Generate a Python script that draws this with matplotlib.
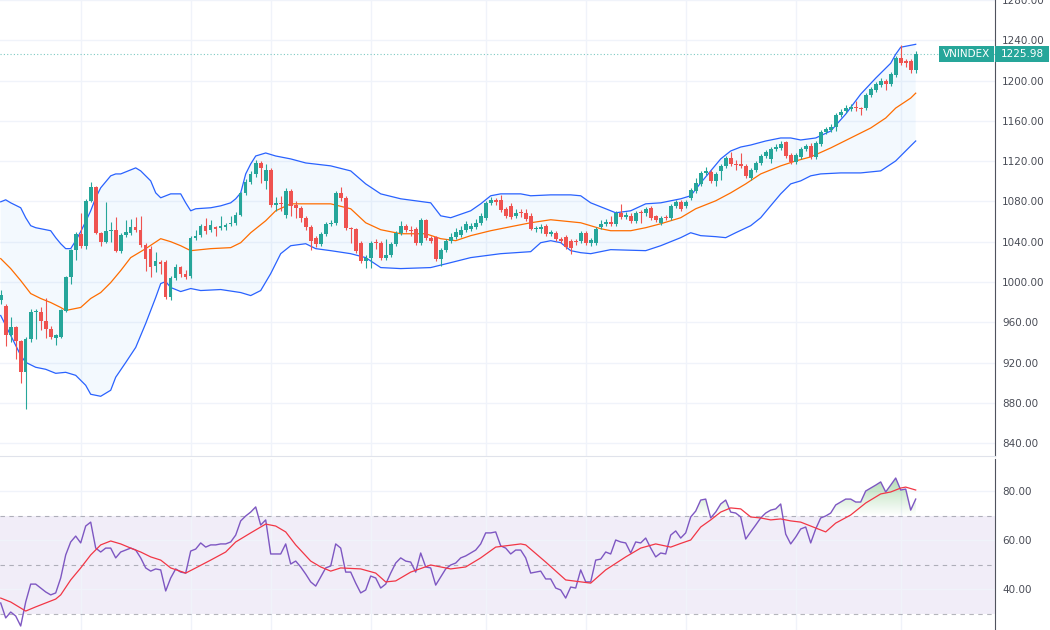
import numpy as np
import matplotlib.pyplot as plt
import matplotlib.colors as mcolors
import matplotlib.transforms as mtransforms
from matplotlib.patches import Rectangle

# daily candles
opens = [982, 976, 947, 955, 941, 911, 943, 970, 970, 961,
         953, 944, 945, 971, 1005, 1032, 1048, 1036, 1080, 1094,
         1049, 1040, 1051, 1052, 1031, 1047, 1049, 1055, 1052, 1037,
         1033, 1016, 1020, 1020, 985, 1004, 1015, 1008, 1006, 1044,
         1047, 1056, 1052, 1055, 1054, 1055, 1058, 1059, 1067, 1088,
         1099, 1107, 1118, 1100, 1111, 1076, 1078, 1067, 1090, 1076,
         1073, 1064, 1055, 1044, 1038, 1048, 1058, 1059, 1088, 1083,
         1054, 1053, 1039, 1021, 1024, 1040, 1039, 1024, 1027, 1038,
         1049, 1056, 1052, 1053, 1039, 1062, 1044, 1045, 1023, 1032,
         1041, 1045, 1047, 1052, 1053, 1055, 1059, 1064, 1078, 1081,
         1081, 1072, 1075, 1066, 1069, 1068, 1066, 1053, 1053, 1056,
         1048, 1049, 1043, 1045, 1041, 1041, 1041, 1049, 1039, 1039,
         1055, 1058, 1060, 1058, 1068, 1065, 1066, 1061, 1069, 1068,
         1073, 1066, 1059, 1065, 1064, 1075, 1079, 1075, 1083, 1090,
         1097, 1108, 1109, 1100, 1110, 1115, 1123, 1117, 1117, 1115,
         1103, 1111, 1118, 1125, 1122, 1132, 1133, 1139, 1126, 1119,
         1124, 1132, 1135, 1124, 1137, 1149, 1151, 1154, 1166, 1170,
         1172, 1174, 1173, 1173, 1186, 1191, 1196, 1200, 1197, 1206,
         1222, 1219, 1219, 1210]
highs = [992, 978, 965, 956, 942, 945, 973, 973, 975, 984,
         956, 948, 973, 1006, 1033, 1050, 1068, 1082, 1099, 1095,
         1050, 1079, 1060, 1065, 1049, 1062, 1063, 1065, 1066, 1039,
         1036, 1030, 1022, 1022, 1006, 1018, 1016, 1012, 1046, 1052,
         1058, 1064, 1062, 1056, 1066, 1059, 1066, 1069, 1089, 1102,
         1110, 1121, 1120, 1117, 1113, 1084, 1085, 1093, 1092, 1080,
         1075, 1066, 1057, 1046, 1050, 1060, 1062, 1090, 1094, 1085,
         1055, 1054, 1041, 1027, 1041, 1043, 1041, 1043, 1040, 1051,
         1061, 1058, 1056, 1055, 1064, 1063, 1046, 1046, 1034, 1043,
         1049, 1054, 1056, 1061, 1059, 1063, 1068, 1080, 1084, 1083,
         1086, 1074, 1078, 1072, 1072, 1072, 1068, 1056, 1058, 1058,
         1052, 1051, 1045, 1047, 1043, 1043, 1051, 1051, 1044, 1055,
         1062, 1063, 1066, 1070, 1077, 1069, 1068, 1070, 1071, 1074,
         1075, 1067, 1066, 1067, 1077, 1081, 1081, 1081, 1093, 1103,
         1110, 1114, 1111, 1109, 1117, 1125, 1129, 1121, 1128, 1117,
         1113, 1120, 1127, 1131, 1134, 1137, 1140, 1140, 1128, 1128,
         1134, 1137, 1138, 1140, 1151, 1154, 1157, 1168, 1172, 1176,
         1177, 1180, 1174, 1188, 1194, 1199, 1203, 1202, 1209, 1224,
         1235, 1221, 1221, 1229]
lows = [978, 936, 940, 924, 900, 874, 940, 943, 952, 944,
        943, 937, 944, 970, 998, 1022, 1034, 1033, 1079, 1048,
        1036, 1039, 1040, 1030, 1029, 1045, 1047, 1050, 1035, 1011,
        1005, 1010, 1008, 983, 982, 1002, 1005, 1003, 1004, 1042,
        1045, 1048, 1050, 1046, 1052, 1052, 1056, 1057, 1066, 1086,
        1097, 1104, 1098, 1092, 1074, 1070, 1070, 1064, 1066, 1064,
        1060, 1052, 1032, 1035, 1036, 1046, 1056, 1057, 1080, 1052,
        1039, 1029, 1019, 1014, 1014, 1033, 1022, 1022, 1025, 1036,
        1047, 1050, 1046, 1037, 1037, 1042, 1039, 1021, 1016, 1030,
        1039, 1043, 1045, 1050, 1051, 1053, 1057, 1062, 1076, 1076,
        1069, 1064, 1063, 1064, 1065, 1061, 1052, 1050, 1049, 1046,
        1046, 1041, 1039, 1033, 1028, 1037, 1039, 1037, 1036, 1037,
        1053, 1056, 1056, 1056, 1063, 1063, 1059, 1059, 1059, 1066,
        1062, 1060, 1057, 1062, 1062, 1073, 1070, 1073, 1081, 1088,
        1095, 1106, 1098, 1095, 1101, 1113, 1115, 1111, 1113, 1103,
        1101, 1109, 1116, 1123, 1118, 1130, 1131, 1123, 1117, 1117,
        1122, 1130, 1122, 1122, 1135, 1147, 1149, 1150, 1164, 1168,
        1170, 1170, 1166, 1171, 1184, 1189, 1194, 1191, 1195, 1204,
        1215, 1213, 1208, 1208]
closes = [987, 947, 955, 941, 911, 943, 970, 971, 961, 953,
          945, 947, 972, 1005, 1032, 1048, 1036, 1080, 1094, 1049,
          1040, 1051, 1052, 1031, 1047, 1050, 1055, 1052, 1037, 1023,
          1015, 1021, 1018, 985, 1004, 1015, 1008, 1005, 1044, 1046,
          1056, 1051, 1057, 1053, 1056, 1057, 1059, 1067, 1088, 1099,
          1107, 1118, 1113, 1111, 1076, 1078, 1077, 1090, 1075, 1073,
          1064, 1055, 1041, 1038, 1048, 1058, 1059, 1088, 1083, 1054,
          1053, 1031, 1021, 1024, 1039, 1039, 1024, 1027, 1038, 1049,
          1056, 1052, 1051, 1039, 1062, 1044, 1041, 1023, 1032, 1041,
          1045, 1050, 1052, 1058, 1056, 1059, 1066, 1078, 1081, 1079,
          1071, 1066, 1065, 1068, 1068, 1063, 1053, 1054, 1055, 1048,
          1050, 1043, 1041, 1035, 1034, 1040, 1049, 1039, 1042, 1053,
          1058, 1060, 1058, 1068, 1065, 1067, 1061, 1068, 1068, 1072,
          1064, 1062, 1064, 1064, 1075, 1079, 1072, 1079, 1091, 1098,
          1108, 1110, 1100, 1107, 1115, 1123, 1117, 1116, 1115, 1105,
          1111, 1118, 1125, 1129, 1132, 1134, 1137, 1125, 1119, 1126,
          1132, 1135, 1124, 1138, 1149, 1152, 1154, 1166, 1169, 1173,
          1174, 1173, 1172, 1186, 1192, 1197, 1200, 1197, 1207, 1222,
          1217, 1217, 1210, 1225.98]

# Bollinger bands, sampled at candle indices
upper_idx = [0, 1, 2, 4, 5, 6, 7, 9, 10, 11, 12, 13, 14, 15, 16, 17, 18, 19, 20, 22,
             23, 24, 26, 27, 28, 30, 31, 32, 34, 36, 37, 38, 39, 42, 44, 46, 47, 48, 49, 50,
             51, 53, 55, 58, 61, 66, 70, 73, 76, 80, 86, 88, 90, 94, 96, 98, 100, 104, 106, 110,
             114, 116, 118, 121, 123, 126, 129, 132, 136, 138, 140, 142, 144, 146, 148, 150, 153, 156, 158, 160,
             163, 166, 169, 172, 175, 178, 179, 180, 183]
upper = [1079.6, 1081.6, 1078.6, 1073.7, 1063.8, 1055.9, 1053.9, 1051.9, 1050.9, 1044.0,
         1038.0, 1033.1, 1033.1, 1041.0, 1050.0, 1060.0, 1070.7, 1083.6, 1093.5, 1105.4,
         1107.3, 1107.3, 1111.3, 1113.3, 1110.3, 1100.4, 1088.5, 1083.6, 1087.5, 1087.5,
         1078.6, 1070.7, 1072.7, 1073.7, 1075.6, 1078.6, 1082.6, 1088.5, 1107.3, 1117.2,
         1125.1, 1128.1, 1125.1, 1122.2, 1118.2, 1115.3, 1110.3, 1097.4, 1087.5, 1082.6,
         1078.6, 1065.7, 1063.8, 1070.7, 1077.6, 1085.6, 1087.5, 1087.5, 1085.6, 1086.5,
         1086.5, 1085.6, 1078.6, 1072.7, 1068.7, 1070.7, 1077.6, 1078.6, 1082.6, 1085.6,
         1098.4, 1110.3, 1122.2, 1130.1, 1134.0, 1136.0, 1140.0, 1143.0, 1143.0, 1141.0,
         1143.0, 1149.9, 1166.7, 1186.5, 1202.4, 1217.2, 1226.1, 1233.1, 1236.0]
basis_idx = [0, 2, 4, 6, 8, 10, 12, 13, 16, 18, 20, 22, 24, 26, 29, 32, 34, 36, 38, 42,
             46, 48, 50, 53, 55, 58, 61, 66, 70, 73, 76, 80, 85, 88, 91, 94, 98, 102, 106, 110,
             114, 116, 120, 122, 126, 129, 132, 136, 139, 143, 146, 149, 152, 156, 159, 162, 166, 170, 174, 177,
             179, 182, 183]
basis = [1023.2, 1013.3, 1001.4, 988.5, 983.6, 979.6, 974.7, 971.7, 974.7, 983.6,
         989.5, 999.4, 1011.3, 1024.2, 1033.1, 1043.0, 1040.0, 1036.0, 1031.1, 1033.1,
         1034.1, 1039.0, 1048.9, 1060.8, 1070.7, 1077.6, 1077.6, 1077.6, 1072.7, 1058.8,
         1051.9, 1047.9, 1047.9, 1043.0, 1041.0, 1046.0, 1050.9, 1054.9, 1058.8, 1061.8,
         1059.8, 1058.8, 1052.9, 1050.9, 1050.9, 1053.9, 1057.8, 1063.8, 1072.7, 1080.6,
         1088.5, 1097.4, 1107.3, 1115.3, 1120.2, 1124.2, 1133.1, 1143.0, 1152.9, 1162.8,
         1172.7, 1182.6, 1187.5]
lower_idx = [0, 2, 4, 5, 7, 9, 11, 13, 15, 17, 18, 20, 22, 23, 25, 27, 29, 31, 32, 33,
             34, 36, 38, 40, 44, 48, 50, 52, 54, 56, 58, 61, 63, 66, 70, 73, 76, 80, 86, 90,
             94, 100, 106, 108, 110, 112, 114, 116, 118, 122, 129, 132, 134, 136, 138, 140, 143, 145, 147, 150,
             152, 154, 156, 158, 160, 162, 164, 168, 172, 176, 179, 182, 183]
lower = [966.7, 946.9, 927.1, 920.2, 915.3, 913.3, 909.3, 910.3, 907.3, 897.4,
         888.5, 886.5, 892.5, 905.4, 920.0, 935.0, 958.8, 984.6, 998.4, 1000.4,
         994.5, 990.5, 993.5, 991.5, 992.5, 989.5, 986.5, 991.5, 1008.3, 1028.1,
         1036.0, 1038.0, 1033.1, 1031.1, 1028.1, 1024.2, 1014.3, 1013.3, 1014.3, 1019.2,
         1024.2, 1028.1, 1030.1, 1039.0, 1041.0, 1039.0, 1031.1, 1029.1, 1028.1, 1032.1,
         1031.1, 1036.0, 1040.0, 1044.0, 1048.9, 1046.0, 1045.0, 1044.0, 1048.9, 1055.9,
         1063.8, 1075.7, 1087.5, 1097.4, 1100.4, 1105.4, 1107.3, 1108.3, 1108.3, 1110.3,
         1120.2, 1135.1, 1140.0]

# RSI(14), one value per candle
rsi = [34.3, 28.2, 30.6, 29.0, 24.9, 34.7, 42.0, 42.0, 40.4, 38.8,
       37.6, 38.4, 44.5, 53.9, 59.2, 61.6, 58.8, 65.7, 67.3, 56.7,
       55.1, 56.7, 56.7, 52.7, 55.1, 55.9, 56.7, 55.9, 52.7, 48.6,
       47.3, 48.2, 47.8, 39.2, 44.5, 48.2, 46.9, 46.5, 55.5, 56.3,
       58.8, 57.1, 58.0, 58.0, 58.4, 58.4, 59.2, 62.0, 67.8, 69.8,
       71.4, 73.5, 66.1, 68.2, 54.3, 54.3, 54.3, 58.4, 50.2, 51.4,
       49.0, 46.1, 42.9, 41.2, 44.9, 48.6, 49.4, 58.4, 56.7, 46.9,
       46.9, 42.4, 38.4, 39.6, 45.3, 44.5, 40.4, 42.0, 46.5, 50.6,
       52.7, 51.4, 51.0, 46.9, 54.7, 49.0, 48.6, 41.6, 44.9, 48.2,
       49.8, 50.6, 52.7, 53.5, 54.7, 55.9, 58.4, 62.9, 62.9, 63.3,
       57.6, 56.7, 54.3, 55.9, 55.9, 52.7, 46.5, 46.9, 47.3, 44.1,
       44.1, 40.4, 39.6, 36.3, 40.8, 40.4, 47.8, 42.9, 42.9, 51.8,
       52.2, 55.1, 54.3, 60.0, 59.2, 58.8, 54.7, 59.2, 58.8, 60.8,
       56.7, 53.1, 54.7, 54.3, 62.0, 63.7, 60.8, 62.9, 69.4, 71.8,
       76.3, 76.7, 69.0, 71.4, 74.7, 76.3, 71.4, 71.0, 69.4, 60.4,
       63.3, 66.1, 69.0, 71.0, 72.2, 72.7, 74.7, 62.4, 58.4, 61.2,
       64.5, 65.3, 58.8, 64.5, 69.0, 69.8, 71.0, 74.3, 75.5, 76.7,
       76.7, 75.5, 75.5, 80.0, 81.2, 82.4, 83.7, 79.6, 82.4, 85.3,
       80.4, 80.8, 72.2, 76.7]
rsi_ma_idx = [0, 2, 5, 7, 9, 11, 12, 14, 16, 18, 20, 22, 24, 26, 28, 30, 32, 34, 37, 39,
              42, 45, 47, 50, 53, 55, 57, 59, 62, 64, 66, 68, 72, 75, 77, 79, 82, 86, 90, 93,
              96, 99, 104, 105, 109, 113, 118, 121, 125, 128, 131, 134, 136, 138, 140, 142, 144, 146, 148, 150,
              152, 154, 156, 158, 160, 162, 164, 165, 167, 170, 173, 176, 178, 180, 181, 183]
rsi_ma = [36.3, 34.7, 31.0, 32.7, 34.3, 35.9, 37.6, 43.7, 48.6, 53.9,
          58.0, 59.6, 58.4, 56.7, 55.1, 53.1, 51.8, 48.6, 46.5, 48.6,
          51.8, 55.1, 59.2, 62.9, 66.5, 65.7, 63.3, 58.0, 51.4, 49.0,
          47.3, 48.6, 48.2, 46.5, 42.9, 43.3, 46.9, 49.8, 48.2, 49.0,
          52.7, 57.1, 58.4, 58.0, 51.0, 43.7, 42.4, 47.8, 53.1, 56.7,
          58.4, 57.1, 58.6, 60.0, 65.3, 68.2, 71.4, 73.1, 72.7, 69.4,
          69.0, 68.2, 68.6, 67.8, 67.3, 65.7, 64.1, 63.3, 66.9, 70.2,
          75.1, 78.8, 79.6, 81.2, 81.6, 80.4]

month_idx = [16, 38, 54, 74, 97, 117, 137, 159, 180]
price_ticks = list(range(840, 1281, 40))
rsi_ticks = [40, 60, 80]
symbol = "VNINDEX"

UP = "#26a69a"
DOWN = "#ef5350"
GRID = "#f0f3fa"
TEXT = "#4a4d57"
AXIS = "#50535e"

plt.rcParams['font.family'] = ['DejaVu Sans']

W, H = 1050, 630
fig = plt.figure(figsize=(W / 100, H / 100), dpi=100)
fig.patch.set_facecolor("white")
ax = fig.add_axes([0, 1 - 456 / H, 995 / W, 456 / H])
ax_rsi = fig.add_axes([0, 0, 995 / W, 171 / H])

x = np.arange(len(closes))
o = np.array(opens, dtype=float)
c = np.array(closes, dtype=float)
hi = np.array(highs, dtype=float)
lo = np.array(lows, dtype=float)
cols = np.where(c >= o, UP, DOWN)
xlim = (-0.14, 198.86)

# bands
ax.fill(np.concatenate([upper_idx, lower_idx[::-1]]),
        np.concatenate([upper, lower[::-1]]),
        color="#2196f3", alpha=0.05, lw=0, zorder=1)
ax.plot(upper_idx, upper, color="#2962ff", lw=0.9, zorder=2)
ax.plot(lower_idx, lower, color="#2962ff", lw=0.9, zorder=2)
ax.plot(basis_idx, basis, color="#ff6d00", lw=0.9, zorder=2)

# candles
ax.vlines(x, lo, hi, colors=cols, lw=0.8, zorder=3)
ax.bar(x, np.maximum(np.abs(c - o), 0.9), bottom=np.minimum(o, c),
       width=0.72, color=cols, lw=0, zorder=4)

last = closes[-1]
ax.axhline(last, color=UP, lw=0.8, ls=(0, (1, 2)), alpha=0.6, zorder=2)

ax.set_xlim(*xlim)
ax.set_ylim(827.2, 1278.6)
ax.set_xticks(month_idx)
ax.set_yticks(price_ticks)
ax.set_yticklabels([f"{v:.2f}" for v in price_ticks])
ax.yaxis.tick_right()
ax.tick_params(axis="y", length=0, pad=5, labelsize=7.5, labelcolor=TEXT)
ax.tick_params(axis="x", length=0, labelbottom=False)
ax.grid(True, color=GRID, lw=1, zorder=0)
ax.set_axisbelow(True)
for s in ("top", "left"):
    ax.spines[s].set_visible(False)
ax.spines["bottom"].set_color("#e0e3eb")
ax.spines["right"].set_color(AXIS)

# last price tags
tr = mtransforms.blended_transform_factory(fig.transFigure, ax.transData)
for x0, wdt, label in [(995, 54, f"{last:.2f}"), (939, 55, symbol)]:
    fig.add_artist(Rectangle((x0 / W, last - 8), wdt / W, 16, transform=tr,
                             facecolor=UP, edgecolor="none", clip_on=False, zorder=10))
    fig.text((x0 + wdt / 2) / W, last, label, transform=tr, ha="center", va="center",
             color="white", fontsize=7.5, zorder=11)

# RSI pane
ax_rsi.axhspan(30, 70, color="#7e57c2", alpha=0.1, lw=0, zorder=0.5)
for lvl in (70, 50, 30):
    ax_rsi.axhline(lvl, color="#787b86", alpha=0.55, lw=0.8, ls=(0, (4, 4)), zorder=1)

r = np.array(rsi)
poly = ax_rsi.fill_between(x, 70, np.maximum(r, 70), color="none", lw=0)
grad = np.zeros((64, 1, 4))
grad[..., :3] = mcolors.to_rgb("#4caf50")
grad[:, 0, 3] = np.linspace(0.45, 0.0, 64)
im = ax_rsi.imshow(grad, extent=[xlim[0], xlim[1], 70, 86], origin="upper",
                   aspect="auto", interpolation="bilinear", zorder=1.5)
im.set_clip_path(poly.get_paths()[0], transform=ax_rsi.transData)

ax_rsi.plot(x, rsi, color="#7e57c2", lw=1.0, zorder=3)
ax_rsi.plot(rsi_ma_idx, rsi_ma, color="#f23645", lw=0.9, zorder=3)

ax_rsi.set_xlim(*xlim)
ax_rsi.set_ylim(23.27, 93.06)
ax_rsi.set_xticks(month_idx)
ax_rsi.set_yticks(rsi_ticks)
ax_rsi.set_yticklabels([f"{v:.2f}" for v in rsi_ticks])
ax_rsi.yaxis.tick_right()
ax_rsi.tick_params(axis="y", length=0, pad=5, labelsize=7.5, labelcolor=TEXT)
ax_rsi.tick_params(axis="x", length=0, labelbottom=False)
ax_rsi.grid(True, color=GRID, lw=1, zorder=0)
ax_rsi.set_axisbelow(True)
for s in ("top", "left", "bottom"):
    ax_rsi.spines[s].set_visible(False)
ax_rsi.spines["right"].set_color(AXIS)

fig.savefig("out.png", dpi=100)
